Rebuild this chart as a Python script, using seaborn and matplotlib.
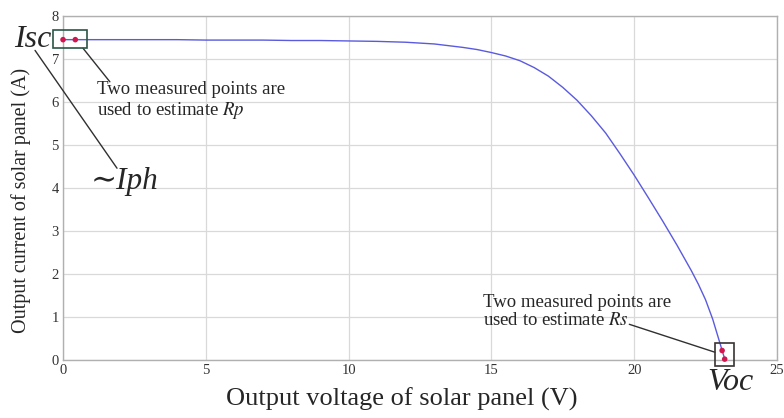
import matplotlib
matplotlib.use("Agg")
import matplotlib.pyplot as plt
from matplotlib.patches import Rectangle
import seaborn as sns
import pandas as pd

# I-V characteristic of the solar panel
voltage = [0, 1, 2, 3, 4, 5, 6, 7, 8, 9, 10, 11, 12, 13, 14, 14.5, 15, 15.5,
           16, 16.5, 17, 17.5, 18, 18.5, 19, 19.5, 20, 20.5, 21, 21.5, 22,
           22.25, 22.5, 22.75, 23.0, 23.25]
current = [7.45, 7.45, 7.45, 7.45, 7.45, 7.44, 7.44, 7.44, 7.43, 7.43, 7.42,
           7.41, 7.39, 7.35, 7.27, 7.22, 7.15, 7.07, 6.96, 6.80, 6.60, 6.34,
           6.04, 5.68, 5.28, 4.80, 4.30, 3.77, 3.23, 2.67, 2.08, 1.76, 1.40,
           0.95, 0.40, -0.15]

# measured points near short circuit (Rp) and open circuit (Rs)
rp_v = [0.0, 0.43]
rp_i = [7.45, 7.45]
rs_v = [23.08, 23.17]
rs_i = [0.22, 0.02]

x_ticks = [0, 5, 10, 15, 20, 25]
y_ticks = [0, 1, 2, 3, 4, 5, 6, 7, 8]

sns.set_style("whitegrid")
plt.rcParams["font.family"] = ["Liberation Serif", "DejaVu Serif"]
plt.rcParams["mathtext.fontset"] = "stix"

fig = plt.figure(figsize=(7.84, 4.18), dpi=100)
ax = fig.add_axes([0.0804, 0.1388, 0.9106, 0.8229])

curve = pd.DataFrame({"V": voltage, "I": current})
sns.lineplot(data=curve, x="V", y="I", ax=ax, color="#5a5ae0", lw=1.0,
             sort=False, estimator=None)
pts = pd.DataFrame({"V": rp_v + rs_v, "I": rp_i + rs_i})
sns.scatterplot(data=pts, x="V", y="I", ax=ax, color="#d2154f", s=16,
                edgecolor="none", zorder=5, clip_on=False)

ax.set_xlim(0, 25)
ax.set_ylim(0, 8)
ax.set_xticks(x_ticks)
ax.set_yticks(y_ticks)
ax.tick_params(labelsize=10.5, length=0, pad=3, labelcolor="#333333")
ax.grid(True, color="#d9d9d9", lw=0.9)
for s in ax.spines.values():
    s.set_color("#b0b0b0")
    s.set_linewidth(1.0)

ax.set_xlabel("Output voltage of solar panel (V)", fontsize=19)
ax.set_ylabel("Output current of solar panel (A)", fontsize=14.5)
ax.xaxis.set_label_coords(0.475, -0.08)
ax.yaxis.set_label_coords(-0.045, 0.465)

# boxes around the measured points
ax.add_patch(Rectangle((-0.35, 7.25), 1.2, 0.42, fill=False,
                       edgecolor="#2b5548", lw=1.2, clip_on=False, zorder=6))
ax.add_patch(Rectangle((22.83, -0.15), 0.67, 0.55, fill=False,
                       edgecolor="#3a3434", lw=1.2, clip_on=False, zorder=6))

line_kw = dict(arrowprops=dict(arrowstyle="-", color="#303030", lw=1.0,
                               shrinkA=0, shrinkB=0),
               annotation_clip=False)

ax.annotate("", xy=(0.7, 7.25), xytext=(1.64, 6.47), **line_kw)
ax.text(1.2, 6.02, "Two measured points are\nused to estimate $\\mathit{Rp}$",
        fontsize=13.5, va="center", ha="left", linespacing=1.1)

ax.annotate("", xy=(-0.98, 7.2), xytext=(1.89, 4.46), **line_kw)
ax.text(-1.05, 7.46, "Isc", fontsize=23, style="italic", ha="center",
        va="center", clip_on=False)
ax.text(2.17, 4.16, "\u223cIph", fontsize=22.5, style="italic", ha="center",
        va="center", clip_on=False)

ax.annotate("", xy=(22.83, 0.18), xytext=(19.83, 0.83), **line_kw)
ax.text(14.69, 1.13, "Two measured points are\nused to estimate $\\mathit{Rs}$",
        fontsize=13.5, va="center", ha="left", linespacing=1.1)
ax.text(23.36, -0.53, "Voc", fontsize=23, style="italic", ha="center",
        va="center", clip_on=False)

fig.savefig("out.png", dpi=100)
